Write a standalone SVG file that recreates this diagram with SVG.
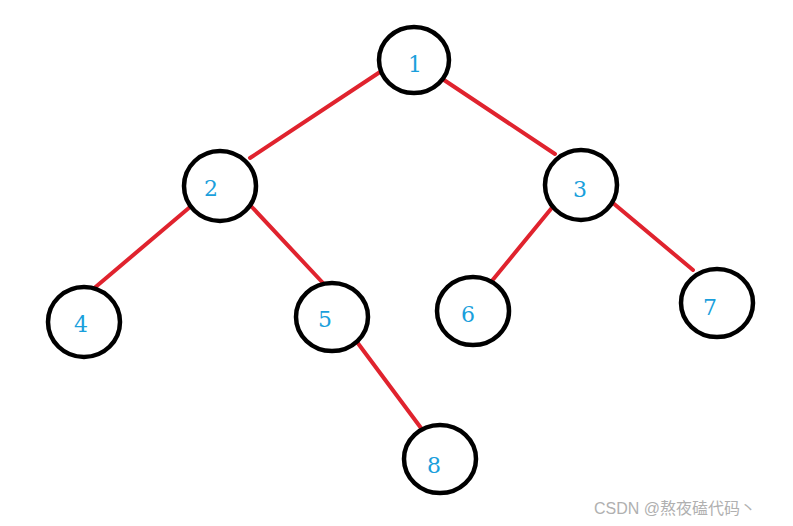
<svg xmlns="http://www.w3.org/2000/svg" width="793" height="526" viewBox="0 0 793 526">
<style>
.n ellipse{fill:#fff;stroke:#000;stroke-width:4.5}
.n text{font-family:"DejaVu Serif","Liberation Serif",serif;font-size:22px;fill:#1a9fdc;text-anchor:middle}
.e line{stroke:#e0232e;stroke-width:4;stroke-linecap:round}
.wm{font-family:"Liberation Sans","Noto Sans CJK SC",sans-serif;font-size:16px;fill:#b0b0b0}
</style>
<rect width="793" height="526" fill="#fff"/>
<g id="edges" class="e">
<line x1="383" y1="70" x2="250" y2="158"/>
<line x1="444" y1="80" x2="555" y2="154"/>
<line x1="190" y1="207" x2="92" y2="290"/>
<line x1="250" y1="205" x2="323" y2="283"/>
<line x1="555" y1="204" x2="491" y2="282"/>
<line x1="613" y1="203" x2="693" y2="270"/>
<line x1="357" y1="342" x2="421" y2="428"/>
</g>
<g id="n1" class="n"><ellipse cx="414" cy="60" rx="35" ry="33"/><text x="415" y="72">1</text></g>
<g id="n2" class="n"><ellipse cx="220" cy="186" rx="36" ry="35"/><text x="211" y="196">2</text></g>
<g id="n3" class="n"><ellipse cx="581" cy="185" rx="36" ry="35"/><text x="580" y="197">3</text></g>
<g id="n4" class="n"><ellipse cx="84" cy="322" rx="36" ry="35"/><text x="81" y="332">4</text></g>
<g id="n5" class="n"><ellipse cx="332" cy="317" rx="36" ry="34"/><text x="325" y="327">5</text></g>
<g id="n6" class="n"><ellipse cx="473" cy="311" rx="36" ry="34"/><text x="468" y="322">6</text></g>
<g id="n7" class="n"><ellipse cx="717" cy="303" rx="36" ry="34"/><text x="710" y="315">7</text></g>
<g id="n8" class="n"><ellipse cx="440" cy="459" rx="36" ry="34"/><text x="434" y="473">8</text></g>
<text class="wm" x="594" y="514">CSDN @熬夜磕代码丶</text>
</svg>
